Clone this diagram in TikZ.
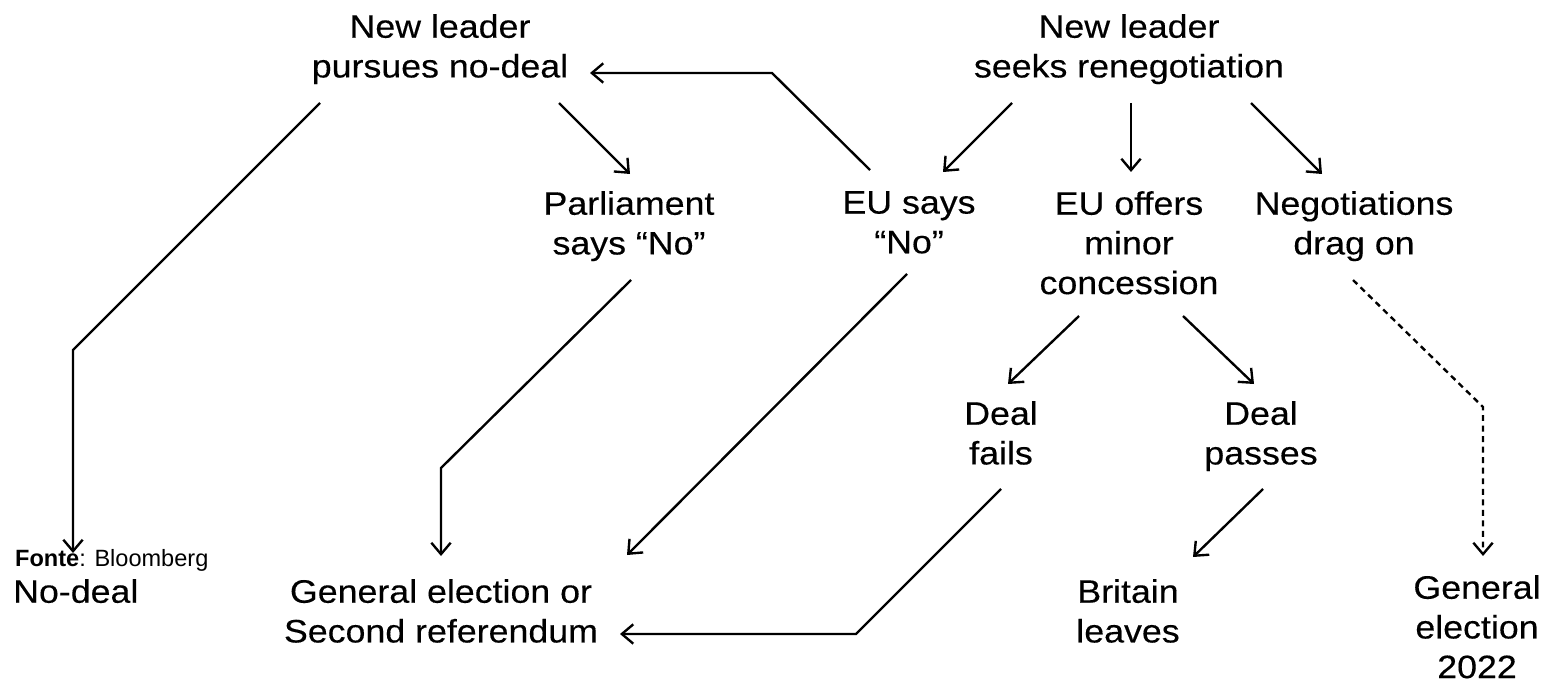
\documentclass[tikz,border=0pt]{standalone}
\usepackage{fontspec}
\setmainfont{Liberation Sans}[FakeStretch=1.1, FakeBold=0.3]
\newfontfamily\srcfont{Liberation Sans}
\usetikzlibrary{arrows.meta,calc,positioning}

\begin{document}
\begin{tikzpicture}[x=0.02cm, y=-0.02cm, line width=1.35pt]
   \useasboundingbox (0,0) rectangle (1547,682);
   \begin{scope}[every node/.style={align=center, inner sep=0pt, anchor=north, font=\fontsize{18.5}{22.6}\selectfont}]
    \node (lead1) at (440,13) {New leader\\pursues no-deal};
    \node (lead2) at (1129,13) {New leader\\seeks renegotiation};
    \node (parl) at (629,190) {Parliament\\says “No”};
    \node (euno) at (909,190) {EU says\\“No”};
    \node (offer) at (1129,190) {EU offers\\minor\\concession};
    \node (drag) at (1354,190) {Negotiations\\drag on};
    \node (fails) at (1001,400) {Deal\\fails};
    \node (passes) at (1261,400) {Deal\\passes};
    \node (nodeal) [anchor=north west] at (12,578) {No-deal};
    \node (elect) at (441,578) {General election or\\Second referendum};
    \node (leaves) at (1128,578) {Britain\\leaves};
    \node (elect22) at (1477,574) {General\\election\\2022};
   \end{scope}
   \node (src) [anchor=base west, inner sep=0pt, font=\srcfont\fontsize{13.4}{16}\selectfont] at (14,566) {\textbf{Fonte}: Bloomberg};

   % bends
   \coordinate (b1) at (73,350);
   \coordinate (b2) at (772,73);
   \coordinate (b3) at (441,468);
   \coordinate (b4) at (1483,407);
   \coordinate (b5) at (856,634);

   \begin{scope}[-{Straight Barb[length=6.5pt,width=11pt]}]
    \draw ($(lead1.north)+(-120,90)$) -- (b1) -- ($(nodeal.north west)+(61,-25)$);
    \draw ($(lead1.north)+(119,90)$) -- ($(parl.north)+(1,-16)$);
    \draw ($(euno.north)+(-39,-20)$) -- (b2) -- ($(lead1.north)+(150,60)$);

    \draw ($(lead2.north)+(-117,90)$) -- ($(euno.north)+(34,-18)$);
    \draw ($(lead2.north)+(2,90)$) -- ($(offer.north)+(2,-18)$);
    \draw ($(lead2.north)+(122,90)$) -- ($(drag.north)+(-32,-16)$);

    \draw ($(parl.north)+(2,90)$) -- (b3) -- ($(elect.north)+(0,-22)$);
    \draw ($(euno.north)+(-2,84)$) -- ($(elect.north)+(186,-23)$);

    \draw ($(offer.north)+(-50,126)$) -- ($(fails.north)+(7,-16)$);
    \draw ($(offer.north)+(54,126)$) -- ($(passes.north)+(-7,-16)$);
    \draw [dash pattern=on 3.4pt off 2.6pt] ($(drag.north)+(-1,90)$) -- (b4) -- ($(elect22.north)+(6,-18)$);

    \draw ($(fails.north)+(0,89)$) -- (b5) -- ($(elect.north)+(179,56)$);
    \draw ($(passes.north)+(2,89)$) -- ($(leaves.north)+(65,-21)$);
   \end{scope}
\end{tikzpicture}
\end{document}
